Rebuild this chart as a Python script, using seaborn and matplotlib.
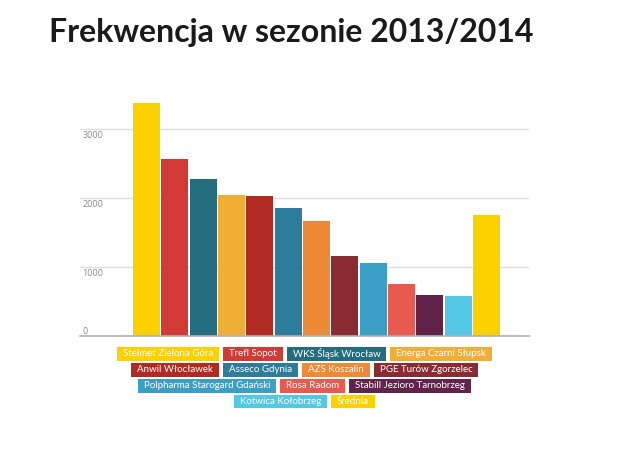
import numpy as np
import pandas as pd
import matplotlib
matplotlib.use("Agg")
import matplotlib.pyplot as plt
import matplotlib.transforms as mtransforms
from matplotlib.patches import Rectangle
import seaborn as sns

# Data
teams = ["Stelmet Zielona Góra", "Trefl Sopot", "WKS Śląsk Wrocław", "Energa Czarni Słupsk",
         "Anwil Włocławek", "Asseco Gdynia", "AZS Koszalin", "PGE Turów Zgorzelec",
         "Polpharma Starogard Gdański", "Rosa Radom", "Stabill Jezioro Tarnobrzeg",
         "Kotwica Kołobrzeg", "Średnia"]
attendance = [3370, 2560, 2265, 2040, 2030, 1850, 1655, 1150, 1045, 755, 590, 577, 1742]
colors = ["#FDD000", "#D13A35", "#236D7E", "#F0AE37", "#B22B22", "#2C7C9B", "#EE8A36",
          "#8A2A33", "#3B9FC5", "#E85A4F", "#62234B", "#52C8E6", "#FDD000"]
yticks = [0, 1000, 2000, 3000]
legend_rows = [[0, 1, 2, 3], [4, 5, 6, 7], [8, 9, 10], [11, 12]]

df = pd.DataFrame({"team": teams, "value": attendance})

sns.set_style("white")
plt.rcParams["font.family"] = ["Lato", "DejaVu Sans"]

W, H = 634, 467
fig = plt.figure(figsize=(W / 100, H / 100), dpi=100)
ax = fig.add_axes([80 / W, 1 - 335.6 / H, 449 / W, 234.6 / H])

sns.barplot(data=df, x="team", y="value", hue="team", palette=colors, legend=False,
            width=0.95, saturation=1, ax=ax, linewidth=0, order=teams)

ax.set_xlim(-2.35, 13.5)
ax.set_ylim(0, 3400)
ax.set_xlabel("")
ax.set_ylabel("")
ax.set_xticks([])
ax.set_yticks([])
for s in ["top", "right", "left"]:
    ax.spines[s].set_visible(False)
ax.spines["bottom"].set_color("#b0b0b0")
ax.spines["bottom"].set_linewidth(1.2)

for t in yticks[1:]:
    ax.axhline(t, color="#dedede", lw=1, zorder=0)

trans = mtransforms.blended_transform_factory(ax.transAxes, ax.transData)
for t in yticks:
    if t == 0:
        ax.text(0.005, 0, "0", transform=trans, ha="left", va="bottom", fontsize=6.5,
                color="#8a8a8a", fontfamily="Open Sans")
    else:
        ax.text(0.005, t - 40, str(t), transform=trans, ha="left", va="top", fontsize=6.5,
                color="#8a8a8a", fontfamily="Open Sans")

fig.text(49 / W, 1 - 42 / H, "Frekwencja w sezonie 2013/2014", ha="left", va="baseline",
         fontsize=23, fontweight="bold", color="#1a1a1a")

# Legend: coloured boxes with white labels, rows centred under the plot
renderer = fig.canvas.get_renderer()
center_x = 304.5
row_tops = [347.3, 363.3, 379.3, 395.0]
box_h = 13.3
pad = 6
gap = 4
for row, top in zip(legend_rows, row_tops):
    items = []
    for i in row:
        t = fig.text(0, 0, teams[i], fontsize=7, color="white", ha="left", va="center",
                     zorder=3)
        w = t.get_window_extent(renderer).width
        items.append((i, t, w + 2 * pad))
    total = sum(w for _, _, w in items) + gap * (len(items) - 1)
    x = center_x - total / 2
    for i, t, w in items:
        fig.patches.append(Rectangle((x / W, 1 - (top + box_h) / H), w / W, box_h / H,
                                     transform=fig.transFigure, facecolor=colors[i],
                                     edgecolor="none", zorder=2))
        t.set_position(((x + pad) / W, 1 - (top + box_h / 2) / H))
        x += w + gap

fig.savefig("out.png", dpi=100)
